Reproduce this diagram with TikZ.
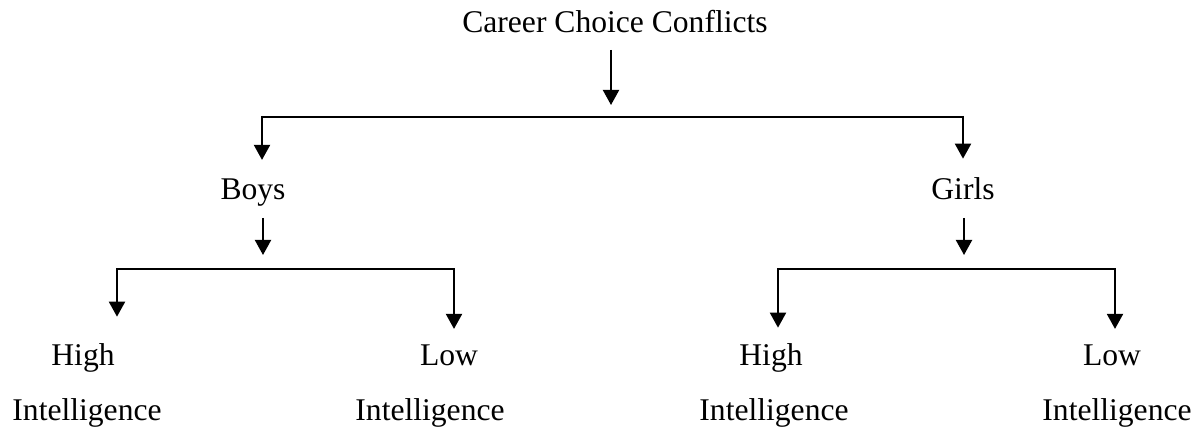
\documentclass[tikz,border=0pt]{standalone}
\usepackage{fontspec}
\setmainfont{Liberation Serif}
\usepackage{tikz}
\usetikzlibrary{arrows.meta,calc,positioning}

\begin{document}
\begin{tikzpicture}[x=0.5pt, y=-0.5pt,
    arr/.style={-{Triangle[length=7.5pt,width=8pt]}, line width=1pt},
    bar/.style={line width=1pt},
    lbl/.style={font=\fontsize{15.8}{19}\selectfont, inner sep=0pt, anchor=base}]

  \useasboundingbox (0,0) rectangle (1198,427);

  % Labels
  \node[lbl] (title) at (615,33) {Career Choice Conflicts};
  \node[lbl] (boys)  at (253,200) {Boys};
  \node[lbl] (girls) at (963,200) {Girls};

  \node[lbl] (bhigh) at (83,365)   {High};
  \node[lbl] (blow)  at (449,365)  {Low};
  \node[lbl] (ghigh) at (771,365)  {High};
  \node[lbl] (glow)  at (1112,365) {Low};

  \node[lbl] (bhighint) at (87,420)   {Intelligence};
  \node[lbl] (blowint)  at (430,420)  {Intelligence};
  \node[lbl] (ghighint) at (774,420)  {Intelligence};
  \node[lbl] (glowint)  at (1117,420) {Intelligence};

  % Bar joints
  \coordinate (topmid) at (611,117);
  \coordinate (topl)   at (262,117);
  \coordinate (topr)   at (963,117);
  \coordinate (boysmid) at (263,269);
  \coordinate (boysl)   at (117,269);
  \coordinate (boysr)   at (454,269);
  \coordinate (girlsmid) at (964,269);
  \coordinate (girlsl)   at (778,269);
  \coordinate (girlsr)   at (1115,269);

  % Top level
  \draw[arr] ([yshift=-8.5pt]title.base -| topmid) -- ([yshift=6pt]topmid);
  \draw[bar] (topl) -- (topr);
  \draw[arr] ([yshift=0.5pt]topl) -- ([yshift=9.5pt]boys.north -| topl);
  \draw[arr] ([yshift=0.5pt]topr) -- ([yshift=9.5pt]girls.north -| topr);

  % Boys
  \draw[arr] ([yshift=-9pt]boys.base -| boysmid) -- ([yshift=7pt]boysmid);
  \draw[bar] (boysl) -- (boysr);
  \draw[arr] ([yshift=0.5pt]boysl) -- ([yshift=13pt]bhigh.north -| boysl);
  \draw[arr] ([yshift=0.5pt]boysr) -- ([yshift=7.5pt]blow.north -| boysr);

  % Girls
  \draw[arr] ([yshift=-9pt]girls.base -| girlsmid) -- ([yshift=7pt]girlsmid);
  \draw[bar] (girlsl) -- (girlsr);
  \draw[arr] ([yshift=0.5pt]girlsl) -- ([yshift=7.5pt]ghigh.north -| girlsl);
  \draw[arr] ([yshift=0.5pt]girlsr) -- ([yshift=7.5pt]glow.north -| girlsr);

\end{tikzpicture}
\end{document}
